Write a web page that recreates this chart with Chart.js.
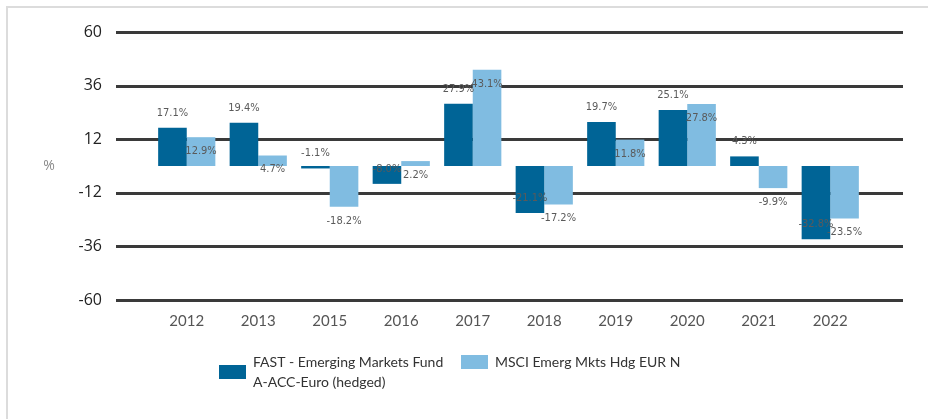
<!DOCTYPE html>
<html>
<head>
<meta charset="utf-8">
<script src="https://cdn.jsdelivr.net/npm/chart.js@4.4.0/dist/chart.umd.min.js"></script>
<style>
  html, body { margin: 0; padding: 0; background: #fff; overflow: hidden; }
  #wrap { position: relative; width: 928px; height: 419px; }
  #frame { position: absolute; left: 6px; top: 6px; width: 1000px; height: 1000px; border-left: 2px solid #dcdcdc; border-top: 2px solid #dcdcdc; }
  #Chart { position: absolute; left: 0; top: 0; }
</style>
</head>
<body>
<div id="wrap">
  <div id="frame"></div>
  <canvas id="Chart" width="928" height="419"></canvas>
</div>
<script>
  // years on the x axis
  const years = ['2012','2013','2015','2016','2017','2018','2019','2020','2021','2022'];
  // annual performance in %
  const fund = [17.1, 19.4, -1.1, -8.0, 27.9, -21.1, 19.7, 25.1, 4.3, -32.8];
  const msci = [12.9, 4.7, -18.2, 2.2, 43.1, -17.2, 11.8, 27.8, -9.9, -23.5];
  const yTicks = [-60, -36, -12, 12, 36, 60];
  const fundName = ['FAST - Emerging Markets Fund', 'A-ACC-Euro (hedged)'];
  const msciName = ['MSCI Emerg Mkts Hdg EUR N'];

  // long grid lines that run past the bars on both sides + % label
  const gridPlugin = {
    id: 'longGrid',
    beforeDatasetsDraw(c) {
      const y = c.scales.y, ctx = c.ctx, a = c.chartArea;
      ctx.save();
      ctx.strokeStyle = '#3a3a3a';
      ctx.lineWidth = 3;
      yTicks.forEach(v => {
        const py = Math.round(y.getPixelForValue(v)) + 0.5;
        ctx.beginPath();
        ctx.moveTo(a.left - 35, py);
        ctx.lineTo(a.right + 37, py);
        ctx.stroke();
      });
      ctx.fillStyle = '#8a8a8a';
      ctx.font = '14px "Open Sans"';
      ctx.textAlign = 'center';
      ctx.textBaseline = 'middle';
      ctx.fillText('%', 49, y.getPixelForValue(0));
      ctx.restore();
    }
  };

  // value labels: fund above the bar end, index below it
  const labelPlugin = {
    id: 'valLabels',
    afterDatasetsDraw(c) {
      const ctx = c.ctx;
      ctx.save();
      ctx.font = '11px "DejaVu Sans Condensed", "DejaVu Sans"';
      ctx.fillStyle = '#5a5a5a';
      ctx.textAlign = 'center';
      ctx.textBaseline = 'middle';
      c.data.datasets.forEach((ds, i) => {
        const meta = c.getDatasetMeta(i);
        meta.data.forEach((bar, j) => {
          const off = i === 0 ? -15 : 14;
          ctx.fillText(ds.data[j].toFixed(1) + '%', bar.x, bar.y + off);
        });
      });
      ctx.restore();
    }
  };

  // legend under the axis, box centred on its text block
  const legendPlugin = {
    id: 'legendBox',
    afterDraw(c) {
      const ctx = c.ctx;
      const starts = [219, 461];
      ctx.save();
      ctx.font = '14px Lato';
      ctx.textBaseline = 'middle';
      ctx.textAlign = 'left';
      c.data.datasets.forEach((ds, i) => {
        const lines = ds.label;
        const x = starts[i], top = 362;
        const mid = top + (lines.length - 1) * 10;
        ctx.fillStyle = ds.backgroundColor;
        ctx.fillRect(x, mid - 7, 27, 14);
        ctx.fillStyle = '#333';
        lines.forEach((t, k) => ctx.fillText(t, x + 34, top + k * 20));
      });
      ctx.restore();
    }
  };

  const ctx = document.getElementById('Chart').getContext('2d');
  const perfChart = new Chart(ctx, {
    type: 'bar',
    data: {
      labels: years,
      datasets: [{
        label: fundName,
        data: fund,
        backgroundColor: '#006496',
        categoryPercentage: 0.8,
        barPercentage: 1.0
      },{
        label: msciName,
        data: msci,
        backgroundColor: '#80bce1',
        categoryPercentage: 0.8,
        barPercentage: 1.0
      }]
    },
    options: {
      responsive: false,
      animation: false,
      layout: { padding: { top: 32, right: 62, bottom: 0, left: 0 } },
      scales: {
        x: {
          grid: { display: false, drawTicks: false },
          border: { display: false },
          afterFit(s) { s.height = 119; },
          ticks: { color: '#555', font: { family: 'Lato', size: 15 }, padding: 12, maxRotation: 0 }
        },
        y: {
          min: -60,
          max: 60,
          grid: { display: false, drawTicks: false },
          border: { display: false },
          afterFit(s) { s.width = 151; s.paddingTop = 10; s.paddingBottom = 10; },
          afterBuildTicks(s) { s.ticks = yTicks.map(v => ({ value: v })); },
          ticks: { color: '#222', font: { family: 'Open Sans', size: 16 }, padding: 49 }
        }
      },
      plugins: {
        legend: { display: false },
        tooltip: { enabled: false }
      }
    },
    plugins: [gridPlugin, labelPlugin, legendPlugin]
  });
</script>
</body>
</html>
